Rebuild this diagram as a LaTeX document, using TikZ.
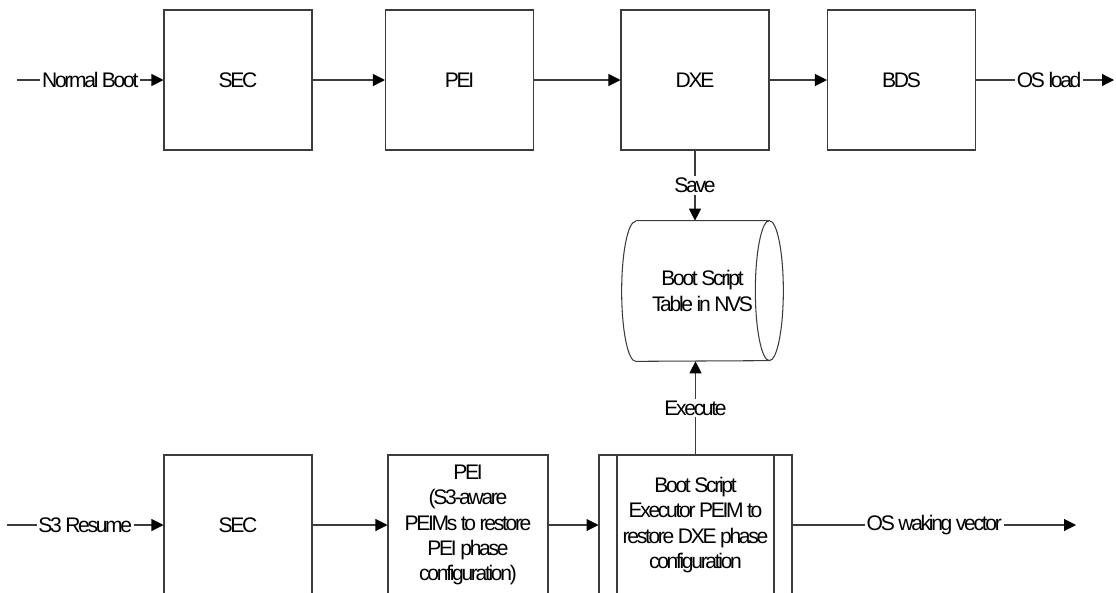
\documentclass[tikz,border=0pt]{standalone}
\usepackage{fontspec}
\setmainfont{Liberation Sans}[LetterSpace=-11]
\usepackage{xcolor}
\usepackage{tikz}
\usetikzlibrary{arrows.meta,positioning,shapes.geometric,calc}
\definecolor{uefiline}{RGB}{60,60,60}

\begin{document}
\begin{tikzpicture}[x=0.02cm,y=-0.02cm,
  font=\fontsize{12}{14.4}\selectfont,
  phase/.style={draw=uefiline, line width=0.6pt, minimum width=2.96cm,
                minimum height=2.8cm, inner sep=0pt, align=center},
  executor/.style={minimum width=3.86cm,
    path picture={\draw[uefiline, line width=0.6pt]
      ([xshift=0.36cm]path picture bounding box.north west) --
      ([xshift=0.36cm]path picture bounding box.south west)
      ([xshift=-0.36cm]path picture bounding box.north east) --
      ([xshift=-0.36cm]path picture bounding box.south east);}},
  store/.style={minimum width=3.22cm, minimum height=2.8cm, inner sep=0pt, align=center},
  flow/.style={draw=uefiline, line width=0.6pt,
               -{Triangle[length=0.24cm,width=0.24cm,fill=black,color=black]}},
  lbl/.style={fill=white, inner sep=1pt}]
  \useasboundingbox (0,0) rectangle (1116,592);
  % normal boot row
  \coordinate (nbin) at (17,80);
  \node[phase] (sec) at (238,80) {SEC};
  \node[phase] (pei) at (459.5,80) {PEI};
  \node[phase] (dxe) at (695,80) {DXE};
  \node[phase] (bds) at (901.5,80) {BDS};
  \coordinate (osload) at (1114,80);
  % boot script table in the middle, drawn as a lying cylinder
  \node[store] (nvs) at (702.5,291) {Boot Script\\Table in NVS};
  \draw[uefiline, line width=0.6pt]
    ([xshift=0.28cm]nvs.north west) -- ([xshift=-0.28cm]nvs.north east)
    arc[start angle=90, end angle=-90, x radius=0.28cm, y radius=1.4cm]
    -- ([xshift=0.28cm]nvs.south west)
    arc[start angle=270, end angle=90, x radius=0.28cm, y radius=1.4cm]
    ([xshift=-0.28cm]nvs.north east)
    arc[start angle=90, end angle=270, x radius=0.28cm, y radius=1.4cm];
  % s3 resume row
  \coordinate (s3in) at (7,525);
  \node[phase] (secs) at (238,525) {SEC};
  \node[phase, minimum width=3.2cm] (peis) at (468,525)
    {PEI\\(S3-aware\\PEIMs to restore\\PEI phase\\configuration)};
  \node[phase, executor] (exec) at (695.5,525)
    {Boot Script\\Executor PEIM to\\restore DXE phase\\configuration};
  \coordinate (wake) at (1076,525);
  % connectors
  \draw[flow] (nbin) -- node[lbl] {Normal Boot} (sec);
  \foreach \a/\b in {sec/pei,pei/dxe,dxe/bds,secs/peis,peis/exec}
    \draw[flow] (\a) -- (\b);
  \draw[flow] (bds) -- node[lbl, pos=0.53] {OS load} (osload);
  \draw[flow] (dxe) -- node[lbl] {Save} (dxe.south |- nvs.north);
  \draw[flow] (exec) -- node[lbl] {Execute} (exec.north |- nvs.south);
  \draw[flow] (s3in) -- node[lbl] {S3 Resume} (secs);
  \draw[flow] (exec) -- node[lbl] {OS waking vector} (wake);
\end{tikzpicture}
\end{document}
